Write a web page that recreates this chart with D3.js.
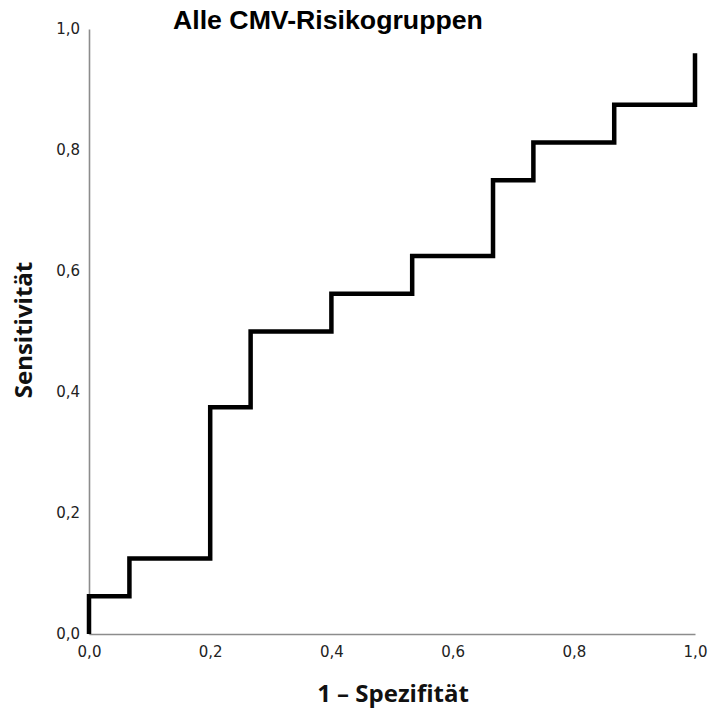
<!DOCTYPE html>
<html><head><meta charset="utf-8">
<script src="https://cdn.jsdelivr.net/npm/d3@7"></script>
<style>body{margin:0;background:#fff}</style>
</head><body>
<svg id="c" width="711" height="710"></svg>
<script>
const fpr = [0, 0, 0.0667, 0.0667, 0.2, 0.2, 0.2667, 0.2667, 0.4, 0.4, 0.5333, 0.5333, 0.6667, 0.6667, 0.7333, 0.7333, 0.8667, 0.8667, 1.0, 1.0];
const tpr = [0, 0.0625, 0.0625, 0.125, 0.125, 0.375, 0.375, 0.5, 0.5, 0.5625, 0.5625, 0.625, 0.625, 0.75, 0.75, 0.8125, 0.8125, 0.875, 0.875, 0.96];
const ticks = [0, 0.2, 0.4, 0.6, 0.8, 1.0];
const title = "Alle CMV-Risikogruppen";
const xTitle = "1 – Spezifität";
const yTitle = "Sensitivität";

const svg = d3.select("#c");
const x = d3.scaleLinear().domain([0,1]).range([89, 695]);
const y = d3.scaleLinear().domain([0,1]).range([634, 29]);
const fmt = d => d3.format(".1f")(d).replace(".", ",");

const axisColor = "#8c8c8c";
const xa = svg.append("g").attr("transform","translate(0,634)")
  .call(d3.axisBottom(x).tickValues(ticks).tickSize(0).tickPadding(12).tickFormat(fmt));
const ya = svg.append("g").attr("transform","translate(89,0)")
  .call(d3.axisLeft(y).tickValues(ticks).tickSize(0).tickPadding(9).tickFormat(fmt));
[xa, ya].forEach(a => {
  a.select(".domain").attr("stroke", axisColor).attr("stroke-width", 1.6);
  a.selectAll("text").attr("font-family","DejaVu Sans, sans-serif").attr("font-size", 15).attr("fill","#222");
});

const pts = fpr.map((v,i)=>[v, tpr[i]]);
svg.append("path").datum(pts)
  .attr("d", d3.line().x(d=>x(d[0])).y(d=>y(d[1])))
  .attr("fill","none").attr("stroke","#000").attr("stroke-width",4.5).attr("stroke-linejoin","miter").attr("stroke-linecap","butt");

svg.append("text").attr("x", 173).attr("y", 29).text(title)
  .attr("font-family","Liberation Sans, Arial, sans-serif").attr("font-weight","bold").attr("font-size", 26.7).attr("fill","#000");
svg.append("text").attr("x", 393).attr("y", 702).attr("text-anchor","middle").text(xTitle)
  .attr("font-family","Open Sans, sans-serif").attr("font-weight","bold").attr("font-size", 24).attr("fill","#111");
svg.append("text").attr("transform","translate(32,330) rotate(-90)").attr("text-anchor","middle").text(yTitle)
  .attr("font-family","Open Sans, sans-serif").attr("font-weight","bold").attr("font-size", 24).attr("fill","#111");
</script>
</body></html>
